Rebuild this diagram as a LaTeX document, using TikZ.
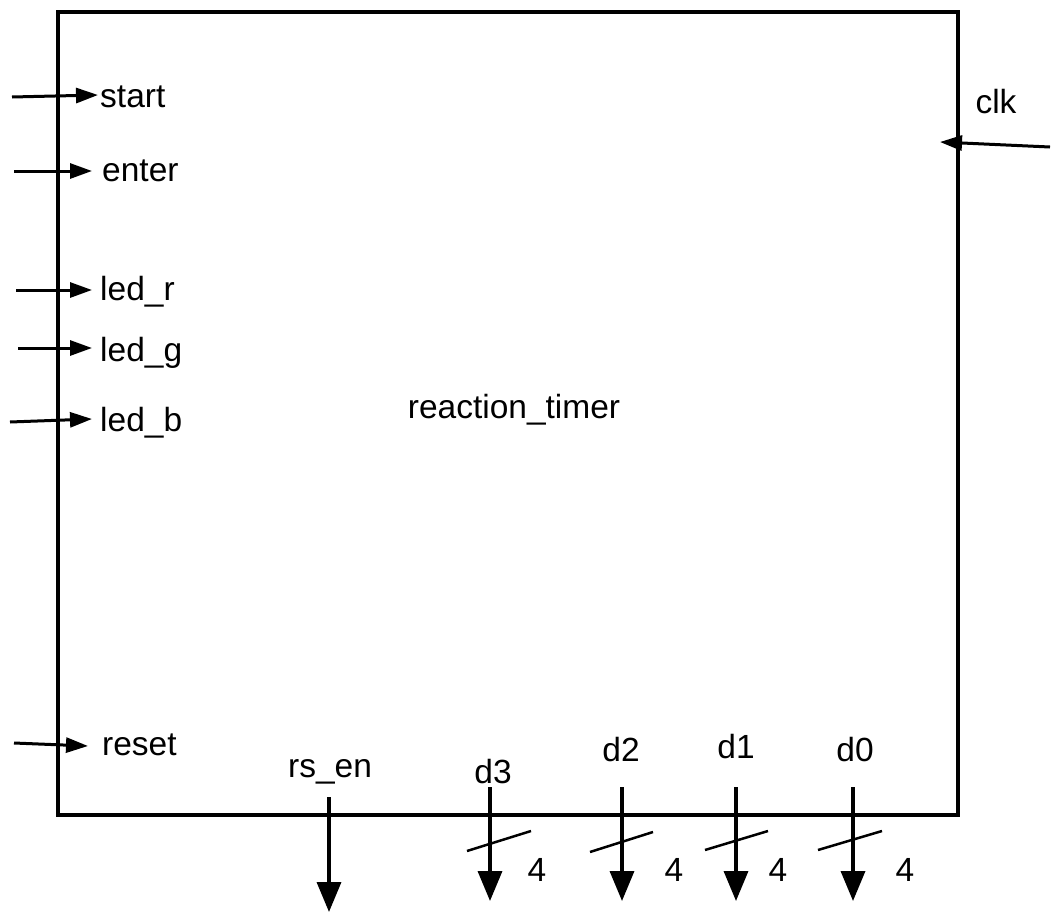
\documentclass[tikz,border=0pt]{standalone}
\usepackage{fontspec}
\setmainfont{Liberation Sans}
\usetikzlibrary{arrows.meta}
\begin{document}
\begin{tikzpicture}[x=1pt,y=-1pt,
  lbl/.style={font=\fontsize{33.5}{38}\selectfont, inner sep=0pt},
  inarrow/.style={line width=3pt, -{Triangle[length=22pt,width=15pt]}},
  outarrow/.style={line width=3.5pt, -{Triangle[length=30pt,width=24pt]}},
  busslash/.style={line width=2.5pt},
  blockbox/.style={draw, line width=4pt, inner sep=0pt, outer sep=0pt}]
\useasboundingbox (0,0) rectangle (1052,913);
% block
\node[blockbox, minimum width=900pt, minimum height=803pt, anchor=north west] (blk) at (58,12) {};
\node[lbl, anchor=base] (title) at (514,418) {reaction\_timer};
% left inputs
\node[lbl, anchor=base west] (start) at (100,107) {start};
\node[lbl, anchor=base west] (enter) at (102,181) {enter};
\node[lbl, anchor=base west] (ledr) at (100,300) {led\_r};
\node[lbl, anchor=base west] (ledg) at (100,361) {led\_g};
\node[lbl, anchor=base west] (ledb) at (100,431) {led\_b};
\node[lbl, anchor=base west] (reset) at (102,755) {reset};
\coordinate (startin) at (12,97);
\coordinate (enterin) at (14,171);
\coordinate (ledrin) at (16,290);
\coordinate (ledgin) at (18,348);
\coordinate (ledbin) at (10,422);
\coordinate (resetin) at (14,743);
\draw[inarrow] (startin) -- (98,95);
\draw[inarrow] (enterin) -- (92,171);
\draw[inarrow] (ledrin) -- (92,290);
\draw[inarrow] (ledgin) -- (92,348);
\draw[inarrow] (ledbin) -- (92,419);
\draw[inarrow] (resetin) -- (88,746);
% clk
\node[lbl, anchor=base] (clk) at (996,113) {clk};
\coordinate (clkin) at (1050,147);
\coordinate (clktip) at (940,142);
\draw[inarrow] (clkin) -- (clktip);
% bottom outputs
\node[lbl, anchor=base] (rsen) at (330,777) {rs\_en};
\node[lbl, anchor=base] (d3) at (493,783) {d3};
\node[lbl, anchor=base] (d2) at (621,761) {d2};
\node[lbl, anchor=base] (d1) at (736,758) {d1};
\node[lbl, anchor=base] (d0) at (855,761) {d0};
\coordinate (rsens) at (329,797); \coordinate (rsene) at (329,912);
\coordinate (d3s) at (490,787); \coordinate (d3e) at (490,901);
\coordinate (d2s) at (622,787); \coordinate (d2e) at (622,901);
\coordinate (d1s) at (736,787); \coordinate (d1e) at (736,901);
\coordinate (d0s) at (853,787); \coordinate (d0e) at (853,901);
\draw[outarrow] (rsens) -- (rsene);
\draw[outarrow] (d3s) -- (d3e);
\draw[outarrow] (d2s) -- (d2e);
\draw[outarrow] (d1s) -- (d1e);
\draw[outarrow] (d0s) -- (d0e);
% bus slashes
\draw[busslash] (467,851) -- (531,831);
\draw[busslash] (590,852) -- (653,832);
\draw[busslash] (705,850) -- (768,831);
\draw[busslash] (818,850) -- (882,831);
\node[lbl, anchor=base] (w3) at (537,881) {4};
\node[lbl, anchor=base] (w2) at (674,881) {4};
\node[lbl, anchor=base] (w1) at (778,881) {4};
\node[lbl, anchor=base] (w0) at (905,881) {4};
\end{tikzpicture}
\end{document}
